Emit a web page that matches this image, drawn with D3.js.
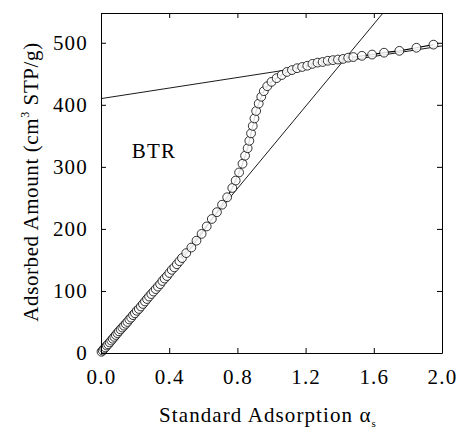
<!DOCTYPE html>
<html>
<head>
<meta charset="utf-8">
<script src="https://cdn.jsdelivr.net/npm/d3@7"></script>
<style>
  body { margin: 0; background: #fff; }
  svg text { font-family: "Times New Roman", "Liberation Serif", "DejaVu Serif", serif; fill: #000; }
</style>
</head>
<body>
<div class="chart"></div>
<script>
// alpha-s plot data
var alphaS = [0.003, 0.010, 0.018, 0.026, 0.034, 0.042, 0.051, 0.060, 0.069, 0.078,
  0.087, 0.096, 0.105, 0.115, 0.125, 0.135, 0.145, 0.155, 0.166, 0.177,
  0.188, 0.199, 0.210, 0.222, 0.234, 0.246, 0.258, 0.270, 0.282, 0.295,
  0.308, 0.321, 0.334, 0.347, 0.360, 0.373, 0.387, 0.401, 0.415, 0.430,
  0.445, 0.460, 0.475, 0.50, 0.53, 0.56, 0.59, 0.62, 0.65, 0.68,
  0.71, 0.74, 0.77, 0.79, 0.81, 0.83, 0.845, 0.86, 0.87, 0.88,
  0.89, 0.90, 0.91, 0.925, 0.94, 0.955, 0.975, 1.00, 1.03, 1.06,
  1.09, 1.12, 1.15, 1.18, 1.21, 1.24, 1.27, 1.30, 1.33, 1.36,
  1.39, 1.42, 1.45, 1.48, 1.53, 1.59, 1.66, 1.75, 1.85, 1.95];
var adsorbed = [2, 4, 7, 9, 12, 14, 17, 20, 23, 26,
  29, 32, 35, 38, 41, 44, 47, 50, 54, 57,
  61, 64, 68, 71, 75, 79, 83, 87, 91, 95,
  99, 103, 107, 111, 116, 120, 124, 129, 134, 138,
  143, 148, 153, 161, 170, 181, 192, 204, 216, 227,
  239, 251, 266, 278, 291, 305, 318, 330, 342, 354,
  366, 378, 390, 402, 413, 422, 430, 437, 443, 448,
  453, 456, 459, 461, 463, 466, 468, 469, 471, 472,
  473, 474, 476, 477, 479, 481, 484, 487, 492, 497];

// tangent lines: [alpha, amount] end points
var lowTangent = [[0, 0], [1.66, 550]];
var highTangent = [[0, 410], [2.0, 495]];

var xTicks = [0.0, 0.4, 0.8, 1.2, 1.6, 2.0];
var yTicks = [0, 100, 200, 300, 400, 500];

var serif = '"Times New Roman", "Liberation Serif", "DejaVu Serif", serif';

var svgWidth = 459, svgHeight = 433;
var margin = { top: 13, right: 17, bottom: 80, left: 101 };
var width = svgWidth - margin.left - margin.right;
var height = svgHeight - margin.top - margin.bottom;

var svg = d3.select(".chart").append("svg")
  .attr("width", svgWidth)
  .attr("height", svgHeight);

var chartGroup = svg.append("g")
  .attr("transform", `translate(${margin.left}, ${margin.top})`);

var xScale = d3.scaleLinear().domain([0, 2.0]).range([0, width]);
var yScale = d3.scaleLinear().domain([0, 548]).range([height, 0]);

// clip for the tangent lines
chartGroup.append("clipPath").attr("id", "plotClip")
  .append("rect").attr("width", width).attr("height", height);

var line = d3.line()
  .x(d => xScale(d[0]))
  .y(d => yScale(d[1]));

chartGroup.append("path")
  .datum(lowTangent)
  .attr("d", line)
  .attr("clip-path", "url(#plotClip)")
  .attr("fill", "none")
  .attr("stroke", "#000")
  .attr("stroke-width", 0.9);

chartGroup.append("path")
  .datum(highTangent)
  .attr("d", line)
  .attr("clip-path", "url(#plotClip)")
  .attr("fill", "none")
  .attr("stroke", "#000")
  .attr("stroke-width", 0.9);

var points = alphaS.map((a, i) => [a, adsorbed[i]]);

chartGroup.append("path")
  .datum(points)
  .attr("d", line)
  .attr("fill", "none")
  .attr("stroke", "#000")
  .attr("stroke-width", 1.2);

chartGroup.selectAll("circle")
  .data(points)
  .enter()
  .append("circle")
  .attr("cx", d => xScale(d[0]))
  .attr("cy", d => yScale(d[1]))
  .attr("r", 4.4)
  .attr("fill", "#fff")
  .attr("fill-opacity", 0.85)
  .attr("stroke", "#000")
  .attr("stroke-width", 0.8);

// axes, ticks pointing inward
var xAxisBottom = chartGroup.append("g")
  .attr("transform", `translate(0, ${height})`)
  .call(d3.axisBottom(xScale).tickValues(xTicks).tickSizeInner(-5).tickSizeOuter(0)
    .tickPadding(16).tickFormat(d3.format(".1f")));
var yAxisLeft = chartGroup.append("g")
  .call(d3.axisLeft(yScale).tickValues(yTicks).tickSizeInner(-5).tickSizeOuter(0)
    .tickPadding(13));
var xAxisTop = chartGroup.append("g")
  .call(d3.axisTop(xScale).tickValues(xTicks).tickSizeInner(-5).tickSizeOuter(0)
    .tickFormat(""));
var yAxisRight = chartGroup.append("g")
  .attr("transform", `translate(${width}, 0)`)
  .call(d3.axisRight(yScale).tickValues(yTicks).tickSizeInner(-5).tickSizeOuter(0)
    .tickFormat(""));

[xAxisBottom, yAxisLeft, xAxisTop, yAxisRight].forEach(function(ax) {
  ax.attr("font-family", serif);
  ax.select(".domain").attr("stroke", "#000").attr("stroke-width", 1);
  ax.selectAll(".tick line").attr("stroke", "#000");
  ax.selectAll("text")
    .style("font-family", serif)
    .style("font-size", "21px")
    .style("letter-spacing", "1.2px");
});
xAxisBottom.selectAll("text").attr("dy", "0.71em");

// BTR label
chartGroup.append("text")
  .attr("x", xScale(0.18))
  .attr("y", yScale(315))
  .style("font-family", serif)
  .style("font-size", "21px")
  .style("letter-spacing", "1.2px")
  .text("BTR");

// axis titles
var xTitle = svg.append("text")
  .attr("x", 268)
  .attr("y", 422)
  .attr("text-anchor", "middle")
  .style("font-family", serif)
  .style("font-size", "21px")
  .style("letter-spacing", "1.1px");
xTitle.append("tspan").text("Standard Adsorption \u03b1");
xTitle.append("tspan").attr("font-size", "11px").attr("dy", 5).text("s");

var yTitle = svg.append("text")
  .attr("transform", "translate(38, 182) rotate(-90)")
  .attr("text-anchor", "middle")
  .style("font-family", serif)
  .style("font-size", "21px")
  .style("letter-spacing", "0.6px");
yTitle.append("tspan").text("Adsorbed Amount (cm");
yTitle.append("tspan").attr("font-size", "12px").attr("dy", -9).text("3");
yTitle.append("tspan").attr("dy", 9).text(" STP/g)");
</script>
</body>
</html>
